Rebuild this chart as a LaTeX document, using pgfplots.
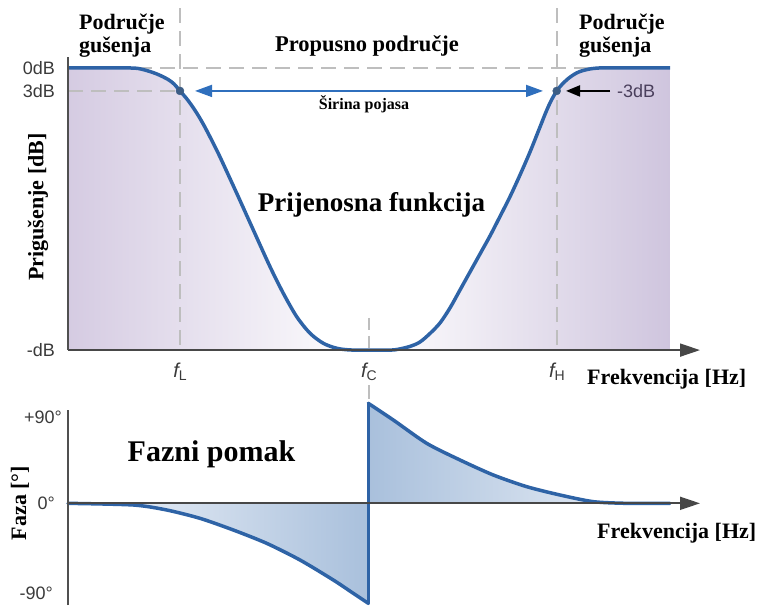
\documentclass[border=0pt]{standalone}
\usepackage{fontspec}
\setmainfont{Liberation Serif}
\setsansfont{Liberation Sans}
\usepackage{pgfplots}
\usepackage{pgfplotstable}
\pgfplotsset{compat=1.18}
\usetikzlibrary{arrows.meta}

\definecolor{curveblue}{HTML}{2E63A6}
\definecolor{arrblue}{HTML}{2F6FBD}
\definecolor{dotc}{HTML}{3C5D85}
\definecolor{purp}{HTML}{D5CBE2}
\definecolor{purpR}{HTML}{CFC5DE}
\definecolor{dashg}{HTML}{BEBEBE}
\definecolor{axisg}{HTML}{505050}
\definecolor{tickg}{HTML}{3A3A3A}
\definecolor{phdark}{HTML}{A9C0DC}
\definecolor{phlight}{HTML}{F2F5FA}
\definecolor{phlightR}{HTML}{EEF2F8}
\definecolor{lblc}{HTML}{4A3F5C}

% magnitude response (x: frequency position, y: dB)
\pgfplotstableread{
x y
0 0
40 0
50 0
60 0
70 -0.07
80 -0.39
90 -0.85
100 -1.50
106 -2.09
112 -3.00
118 -3.90
124 -4.95
130 -6.15
136 -7.50
144 -9.50
152 -11.61
168.7 -16.34
185.3 -21.13
202 -25.92
215.3 -29.39
228.7 -32.44
242 -34.60
255.3 -35.91
268.7 -36.56
282 -36.78
301 -36.8
312 -36.8
327 -36.76
342 -36.32
352 -35.74
362 -34.63
372 -33.26
382 -31.30
392 -28.96
402 -26.61
412 -24.26
422 -21.91
432 -19.37
442 -16.79
452 -13.96
462 -10.96
472 -7.70
478 -5.74
483 -4.30
488.7 -3.00
494 -2.15
500 -1.41
506 -0.85
512 -0.46
522 -0.13
532 0
542 0
560 0
602 0
}\magdata

\tikzset{gdash/.style={dashg, line width=2.5pt, dash pattern=on 15pt off 8pt}}
\newcommand{\tfont}[1]{\fontsize{#1}{#1}\selectfont\bfseries}
\newcommand{\sfont}{\sffamily\fontsize{18}{18}\selectfont}

\begin{document}
\begin{tikzpicture}[x=1pt,y=1pt]
\useasboundingbox (0,0) rectangle (762,605);

% ---------------- magnitude ----------------
\begin{axis}[
  at={(68pt,254.9pt)}, anchor=south west,
  scale only axis, width=632pt, height=292.9pt,
  xmin=0, xmax=632, ymin=-36.8, ymax=1.4,
  axis x line*=bottom, axis y line*=left,
  x axis line style={-{Triangle[length=20pt,width=13pt]}, line width=1.8pt, draw=black!72},
  y axis line style={-, line width=1.8pt, draw=axisg},
  xtick={112,301,489},
  xticklabels={{\itshape f}\raisebox{-3pt}{\fontsize{14}{14}\selectfont L},
               {\itshape f}\raisebox{-3pt}{\fontsize{14}{14}\selectfont C},
               {\itshape f}\raisebox{-3pt}{\fontsize{14}{14}\selectfont H}},
  ytick={-36.8,-3,0}, yticklabels={-dB,3dB,0dB},
  major tick length=0pt,
  xticklabel style={font=\sffamily\fontsize{20}{20}\selectfont, text=tickg, anchor=center, inner sep=0pt, yshift=-22pt},
  yticklabel style={font=\sfont, text=tickg, anchor=east, inner sep=0pt, xshift=-13pt},
  clip=false, axis on top,
]
\addplot[draw=none, left color=purp, right color=purpR, middle color=white, smooth, tension=0.5]
  table[x=x, y=y] {\magdata} -- (axis cs:602,-36.8) -- (axis cs:0,-36.8) -- cycle;

\draw[gdash] (axis cs:112,7.8) -- (axis cs:112,-36.8);
\draw[gdash] (axis cs:489,7.8) -- (axis cs:489,-36.8);
\draw[gdash] (axis cs:0,0) -- (axis cs:532,0);
\draw[gdash] (axis cs:0,-3) -- (axis cs:112,-3);
\draw[gdash, dash pattern=on 12pt off 6pt] (axis cs:301,-32.6) -- (axis cs:301,-36.6);
\draw[gdash, dash pattern=on 14pt off 6pt] (axis cs:301,-41.4) -- (axis cs:301,-44.0);

\addplot[curveblue, line width=3.5pt, smooth, tension=0.5] table[x=x, y=y] {\magdata};

\addplot[only marks, mark=*, mark size=4pt, color=dotc] coordinates {(112,-3) (488.7,-3)};

\draw[arrblue, line width=1.6pt, {Triangle[length=17pt,width=12pt]}-{Triangle[length=17pt,width=12pt]}]
  (axis cs:127,-3) -- (axis cs:475,-3);
\draw[black, line width=2pt, -{Triangle[length=14pt,width=11pt]}] (axis cs:542,-3) -- (axis cs:498,-3);
\node[anchor=west, inner sep=0pt, text=lblc, font=\sfont] at (axis cs:549,-3) {-3dB};
\end{axis}

% ---------------- phase ----------------
\begin{axis}[
  at={(68pt,0pt)}, anchor=south west,
  scale only axis, width=632pt, height=195pt,
  xmin=0, xmax=632, ymin=-91.5, ymax=84,
  axis x line*=middle, axis y line*=left,
  x axis line style={-{Triangle[length=20pt,width=13pt]}, line width=1.8pt, draw=black!72},
  y axis line style={-, line width=1.8pt, draw=axisg},
  xtick=\empty,
  ytick={0}, yticklabels={0°},
  major tick length=0pt,
  yticklabel style={font=\sfont, text=tickg, anchor=east, inner sep=0pt, xshift=-13pt},
  clip=false, axis on top,
]
\addplot[draw=none, left color=phlight, right color=phdark, smooth, tension=0.45] coordinates {
 (0,0) (65.3,-1.5) (98.7,-6.0) (132,-13.5) (165.3,-24.0) (198.7,-36.0)
 (232,-51.0) (265.3,-69.0) (285.3,-81.0) (300.3,-90)} -- (axis cs:300.3,0) -- cycle;
\addplot[draw=none, left color=phdark, right color=phlightR, smooth, tension=0.45] coordinates {
 (300.3,90) (325.3,75) (358.7,54) (392,39) (425.3,25.5) (458.7,15)
 (492,7.5) (525.3,1.5) (558.7,0) (602,0)} -- (axis cs:300.3,0) -- cycle;

\addplot[curveblue, line width=3.5pt, line cap=round, smooth, tension=0.45] coordinates {
 (0,0) (65.3,-1.5) (98.7,-6.0) (132,-13.5) (165.3,-24.0) (198.7,-36.0)
 (232,-51.0) (265.3,-69.0) (285.3,-81.0) (300.3,-90)};
\addplot[curveblue, line width=3.5pt, line cap=round] coordinates {(300.3,-90) (300.3,90)};
\addplot[curveblue, line width=3.5pt, line cap=round, smooth, tension=0.45] coordinates {
 (300.3,90) (325.3,75) (358.7,54) (392,39) (425.3,25.5) (458.7,15)
 (492,7.5) (525.3,1.5) (558.7,0) (602,0)};
\node[anchor=east, inner sep=0pt, text=tickg, font=\sfont] at (axis cs:-6,77.4) {+90°};
\node[anchor=east, inner sep=0pt, text=tickg, font=\sfont] at (axis cs:-15,-80.7) {-90°};
\end{axis}

% ---------------- texts ----------------
\node[anchor=base west, inner sep=0pt, font=\tfont{22}] at (79,575) {Područje};
\node[anchor=base west, inner sep=0pt, font=\tfont{22}] at (79,552) {gušenja};
\node[anchor=base west, inner sep=0pt, font=\tfont{22}] at (579,575) {Područje};
\node[anchor=base west, inner sep=0pt, font=\tfont{22}] at (579,552) {gušenja};
\node[anchor=base, inner sep=0pt, font=\tfont{22.5}] at (367,553) {Propusno područje};
\node[anchor=base, inner sep=0pt, font=\tfont{16}] at (364,495) {Širina pojasa};
\node[anchor=base, inner sep=0pt, font=\tfont{27}] at (371.5,393) {Prijenosna funkcija};
\node[anchor=base, inner sep=0pt, font=\tfont{30}] at (211.5,144) {Fazni pomak};
\node[anchor=base west, inner sep=0pt, font=\tfont{22}] at (587,220) {Frekvencija [Hz]};
\node[anchor=base west, inner sep=0pt, font=\tfont{22}] at (597,67) {Frekvencija [Hz]};
\node[rotate=90, inner sep=0pt, font=\tfont{22}] at (38,398) {Prigušenje [dB]};
\node[rotate=90, inner sep=0pt, font=\tfont{22}] at (20,102) {Faza [°]};
\end{tikzpicture}
\end{document}
